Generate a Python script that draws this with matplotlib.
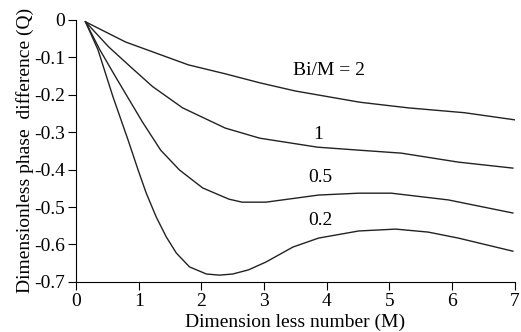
import matplotlib.pyplot as plt

plt.rcParams['font.family'] = ['Liberation Serif', 'DejaVu Serif']

# Valeurs (une liste de M par courbe)
m_2 = [0.15, 0.79, 1.79, 2.38, 2.93, 3.5, 4.53, 5.3, 6.2, 7.0]
q_2 = [-0.005, -0.059, -0.12, -0.144, -0.168, -0.19, -0.22, -0.235, -0.248, -0.267]

m_1 = [0.15, 0.52, 0.9, 1.22, 1.70, 2.38, 2.93, 3.85, 4.51, 5.19, 6.1, 6.97]
q_1 = [-0.005, -0.072, -0.13, -0.178, -0.235, -0.289, -0.316, -0.34, -0.348, -0.356,
       -0.38, -0.396]

m_05 = [0.15, 0.38, 0.63, 1.06, 1.35, 1.65, 2.02, 2.44, 2.65, 3.03, 3.87, 4.51, 5.03, 5.94, 6.97]
q_05 = [-0.005, -0.08, -0.152, -0.273, -0.348, -0.401, -0.449, -0.479, -0.487, -0.487,
        -0.468, -0.463, -0.463, -0.481, -0.516]

m_02 = [0.15, 0.35, 0.59, 0.83, 0.99, 1.12, 1.28, 1.44, 1.60, 1.81, 2.08, 2.29, 2.5,
        2.75, 3.03, 3.46, 3.87, 4.51, 5.1, 5.62, 6.1, 6.97]
q_02 = [-0.005, -0.08, -0.206, -0.321, -0.401, -0.463, -0.527, -0.58, -0.623, -0.66,
        -0.679, -0.682, -0.679, -0.668, -0.647, -0.607, -0.583, -0.564, -0.559, -0.567,
        -0.583, -0.618]

etiquettes = ["Bi/M = 2", "1", "0.5", "0.2"]
pos_etiquettes = [(4.03, -0.134), (3.87, -0.307), (3.9, -0.422), (3.9, -0.537)]

fig = plt.figure(figsize=(5.21, 3.32), dpi=100)
ax = fig.add_axes([0.146, 0.151, 0.842, 0.789])

for m, q in ((m_2, q_2), (m_1, q_1), (m_05, q_05), (m_02, q_02)):
    ax.plot(m, q, color='#222222', linewidth=1.0)

for texte, (x, y) in zip(etiquettes, pos_etiquettes):
    ax.text(x, y, texte, ha='center', va='center', fontsize=14)

ax.set_xlim(0, 7)
ax.set_ylim(-0.7, 0)
ax.set_xticks(range(0, 8))
ax.set_yticks([0, -0.1, -0.2, -0.3, -0.4, -0.5, -0.6, -0.7])
ax.set_yticklabels(['0', '-0.1', '-0.2', '-0.3', '-0.4', '-0.5', '-0.6', '-0.7'])
ax.spines['top'].set_visible(False)
ax.spines['right'].set_visible(False)
ax.tick_params(direction='out', length=6, labelsize=14, pad=2)
ax.set_xlabel("Dimension less number (M)", fontsize=14)
ax.xaxis.set_label_coords(0.5, -0.122)
ax.set_ylabel("Dimensionless phase  difference (Q)", fontsize=14, labelpad=0)

plt.savefig("out.png", dpi=100)
